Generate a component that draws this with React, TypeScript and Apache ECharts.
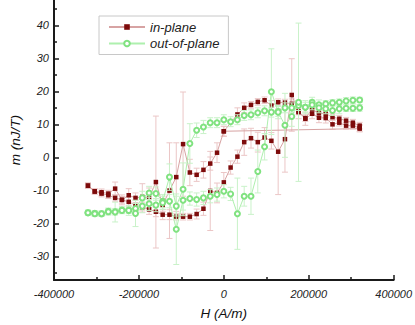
import React, { useEffect, useRef } from "react";
import * as echarts from "echarts";

// Field values H (A/m), one per measurement step
const H = [
  -320000, -304000, -288000, -272000, -256000, -240000, -224000, -208000, -192000, -176000,
  -160000, -144000, -128000, -112000, -96000, -80000, -64000, -48000, -32000, -16000,
  0,
  16000, 32000, 48000, 64000, 80000, 96000, 112000, 128000, 144000, 160000,
  176000, 192000, 208000, 224000, 240000, 256000, 272000, 288000, 304000, 320000,
];

// in-plane: initial segment
const inPlaneStartH = [0, 320000];
const inPlaneStart = [7.9, 8.7];
const inPlaneStartErr = [1.5, 1];

// in-plane: decreasing-field branch (listed by ascending H)
const inPlaneDown = [
  -8.6, -10.3, -10.6, -11.0, -9.5, -12.9, -11.5, -12.3, -12.0, -12.3,
  -7.5, -14.5, -10.1, -6.0, 4.0, -4.6, -5.3, -3.8, -1.9, 1.4,
  7.9,
  null, 13.0, 15.0, 15.9, 16.8, 17.3, 15.7, 16.7, 16.6, 16.2,
  13.9, 11.9, 14.5, 13.4, 13.2, 12.2, 11.7, 11.1, 10.5, 9.6,
];
const inPlaneDownErr = [
  0.8, 0.8, 1, 1, 2, 1.5, 2, 1.5, 4, 3,
  20, 2, 14.5, 10.4, 15.8, 4, 2, 2.5, 2, 3,
  1.5,
  0, 2, 1.5, 1, 1, 1, 1.5, 1, 1, 1.5,
  1, 1, 1.5, 1, 1, 1, 1, 1, 1, 1,
];

// in-plane: increasing-field branch
const inPlaneUp = [
  -8.6, -10.4, -11.0, -11.5, -12.3, -12.9, -13.5, -14.5, -15.1, -15.8,
  -16.5, -17.4, -17.4, -18.0, -18.0, -18.0, -17.2, -15.6, -10.2, -10.8,
  -7.6,
  -3.1, 0.2, 4.6, 5.8, 4.6, 6.0, 5.0, 1.7, 5.5, 18.9,
  13.7, 11.7, 13.2, 12.0, 11.9, 10.0, 10.5, 9.6, 9.6, 8.9,
];
const inPlaneUpErr = [
  0.8, 0.8, 1, 1, 1, 1, 1.5, 1.5, 1.5, 1.5,
  1.5, 1.5, 1.5, 1, 1, 1, 1.5, 2, 12, 3,
  3,
  2, 2, 4, 3, 3, 3, 2.5, 13, 10, 11,
  2, 2, 1.5, 1.5, 1.5, 1.5, 1, 1, 1, 1,
];

// out-of-plane: decreasing-field branch
const outPlaneDown = [
  -16.8, -17.0, -17.1, -16.4, -16.5, -16.0, -16.0, -15.5, -12.3, -10.8,
  -11.0, -13.3, -6.0, -14.8, -9.7, 4.2, 8.2, 9.2, 10.5, 10.5,
  11.4,
  10.8, 11.4, 12.7, 12.9, 13.5, 14.1, 13.7, 13.9, 15.0, 15.0,
  15.7, 15.2, 16.7, 15.9, 16.2, 16.5, 16.7, 17.1, 17.3, 17.4,
];
const outPlaneDownErr = [
  0.8, 0.8, 0.8, 1, 1, 1, 1, 1.5, 2, 2,
  2, 2, 4, 3, 8, 6, 2.2, 2, 1.5, 1.5,
  1.5,
  1.5, 1.5, 1.5, 1.5, 1.5, 1.5, 1.5, 1.5, 1.5, 1.5,
  1.5, 1.5, 1.5, 1.5, 1, 1, 1, 1, 1, 0.8,
];

// out-of-plane: increasing-field branch
const outPlaneUp = [
  -16.8, -17.1, -17.1, -16.5, -16.6, -16.1, -16.1, -17.0, -14.8, -14.1,
  -14.5, -13.8, -13.3, -21.8, -13.0, -12.5, -12.8, -12.3, -11.8, -11.3,
  -10.3,
  -11.1, -17.1, -11.8, -11.8, -4.3, 3.2, 19.9, 13.7, 9.7, 12.4,
  16.7, 15.2, 15.9, 15.0, 14.7, 14.2, 14.7, 14.9, 14.9, 15.0,
];
const outPlaneUpErr = [
  0.8, 0.8, 0.8, 1, 3, 1, 1.5, 4, 2, 2,
  2, 2, 2, 10.7, 3, 2, 2, 2, 2, 2,
  2,
  2, 10.8, 3, 5.5, 6.5, 4, 13, 2, 9.7, 3,
  24, 2, 1.5, 1.5, 1.5, 1.5, 1.5, 1, 1, 1,
];

const X_TICKS = { min: -400000, max: 400000, step: 200000 };
const yMajor = [-30, -20, -10, 0, 10, 20, 30, 40];
const yMinor = [-35, -25, -15, -5, 5, 15, 25, 35, 45];
const Y_MIN = -37.2;
const Y_MAX = 47.7;

type Pt = [number, number, number];

function buildSequence(
  startH: number[],
  start: number[],
  startErr: number[],
  down: (number | null)[],
  downErr: number[],
  up: (number | null)[],
  upErr: number[]
): Pt[] {
  const pts: Pt[] = [];
  startH.forEach((h, i) => pts.push([h, start[i], startErr[i]]));
  for (let i = H.length - 1; i >= 0; i--) {
    const v = down[i];
    if (v !== null && v !== undefined) pts.push([H[i], v, downErr[i]]);
  }
  for (let i = 0; i < H.length; i++) {
    const v = up[i];
    if (v !== null && v !== undefined) pts.push([H[i], v, upErr[i]]);
  }
  return pts;
}

const FONT = "'Liberation Sans', Arial, sans-serif";

export default function App() {
  const ref = useRef<HTMLDivElement | null>(null);

  useEffect(() => {
    if (!ref.current) return;
    const chart = echarts.init(ref.current, undefined, { renderer: "svg" });

    const inSeq = buildSequence(inPlaneStartH, inPlaneStart, inPlaneStartErr, inPlaneDown, inPlaneDownErr, inPlaneUp, inPlaneUpErr);
    const outSeq = buildSequence([], [], [], outPlaneDown, outPlaneDownErr, outPlaneUp, outPlaneUpErr);

    const errData = (seq: Pt[]) =>
      seq.filter((p) => p[2] > 0).map((p) => [p[0], p[1] - p[2], p[1] + p[2]]);

    const errRender = (color: string) => (params: any, api: any) => {
      const x = api.value(0);
      const lo = api.value(1);
      const hi = api.value(2);
      const p1 = api.coord([x, hi]);
      const p2 = api.coord([x, lo]);
      const hw = 3;
      const style = { stroke: color, lineWidth: 1 };
      return {
        type: "group",
        children: [
          { type: "line", shape: { x1: p1[0], y1: p1[1], x2: p2[0], y2: p2[1] }, style },
          { type: "line", shape: { x1: p1[0] - hw, y1: p1[1], x2: p1[0] + hw, y2: p1[1] }, style },
          { type: "line", shape: { x1: p2[0] - hw, y1: p2[1], x2: p2[0] + hw, y2: p2[1] }, style },
        ],
      };
    };

    const axisColor = "#1a1a1a";

    chart.setOption({
      animation: false,
      backgroundColor: "#ffffff",
      grid: { left: 45, right: 19, top: 0, bottom: 42, containLabel: false },
      legend: {
        data: ["in-plane", "out-of-plane"],
        orient: "vertical",
        left: 99,
        top: 16,
        padding: [4, 9, 4, 9],
        itemGap: 2.5,
        itemWidth: 36,
        itemHeight: 7,
        borderColor: "#c8c8c8",
        borderWidth: 1,
        backgroundColor: "#ffffff",
        textStyle: { fontFamily: FONT, fontStyle: "italic", fontSize: 13, color: "#222", lineHeight: 14 },
      },
      xAxis: {
        type: "value",
        min: X_TICKS.min,
        max: X_TICKS.max,
        interval: X_TICKS.step,
        name: "H (A/m)",
        nameLocation: "middle",
        nameGap: 26,
        nameTextStyle: { fontFamily: FONT, fontStyle: "italic", fontSize: 13.5, color: "#111" },
        axisLine: { show: true, onZero: false, lineStyle: { color: axisColor, width: 2 } },
        axisTick: { show: true, inside: true, length: 5, lineStyle: { color: axisColor, width: 1.5 } },
        minorTick: { show: true, splitNumber: 2, length: 3, lineStyle: { color: axisColor, width: 1.5 } },
        splitLine: { show: false },
        minorSplitLine: { show: false },
        axisLabel: {
          formatter: (v: number) => String(v),
          fontFamily: FONT,
          fontStyle: "italic",
          fontSize: 11,
          color: "#222",
          margin: 8,
        },
      },
      yAxis: [
        {
          type: "value",
          min: Y_MIN,
          max: Y_MAX,
          position: "left",
          name: "m (nJ/T)",
          nameLocation: "middle",
          nameGap: 32,
          nameTextStyle: { fontFamily: FONT, fontStyle: "italic", fontSize: 13.5, color: "#111" },
          axisLine: { show: true, onZero: false, lineStyle: { color: axisColor, width: 2 } },
          axisTick: { show: true, inside: true, length: 5, customValues: yMajor, lineStyle: { color: axisColor, width: 1.5 } },
          axisLabel: {
            customValues: yMajor,
            fontFamily: FONT,
            fontStyle: "italic",
            fontSize: 11,
            color: "#222",
            margin: 5,
          },
          splitLine: { show: false },
        },
        {
          type: "value",
          min: Y_MIN,
          max: Y_MAX,
          position: "left",
          offset: 0,
          axisLine: { show: false, onZero: false },
          axisTick: { show: true, inside: true, length: 3, customValues: yMinor, lineStyle: { color: axisColor, width: 1.5 } },
          axisLabel: { show: false },
          splitLine: { show: false },
        },
      ],
      series: [
        {
          type: "custom",
          name: "in-plane err",
          data: errData(inSeq),
          encode: { x: 0, y: [1, 2] },
          renderItem: errRender("#ebc6c6"),
          z: 1,
          silent: true,
        },
        {
          type: "line",
          name: "in-plane",
          data: inSeq.map((p) => [p[0], p[1]]),
          symbol: "rect",
          symbolSize: 4.5,
          showSymbol: true,
          itemStyle: { color: "#7d0b0b" },
          lineStyle: { color: "#d7a3a3", width: 1 },
          z: 3,
        },
        {
          type: "custom",
          name: "out-of-plane err",
          data: errData(outSeq),
          encode: { x: 0, y: [1, 2] },
          renderItem: errRender("#c9f2c9"),
          z: 4,
          silent: true,
        },
        {
          type: "line",
          name: "out-of-plane",
          data: outSeq.map((p) => [p[0], p[1]]),
          symbol: "emptyCircle",
          symbolSize: 5,
          showSymbol: true,
          itemStyle: { color: "#80e280", borderWidth: 1 },
          lineStyle: { color: "#aef0ae", width: 1 },
          z: 5,
        },
      ],
    });

    return () => chart.dispose();
  }, []);

  return (
    <div
      ref={ref}
      style={{ position: "fixed", left: 0, top: 0, width: 415, height: 325, background: "#fff" }}
    />
  );
}
